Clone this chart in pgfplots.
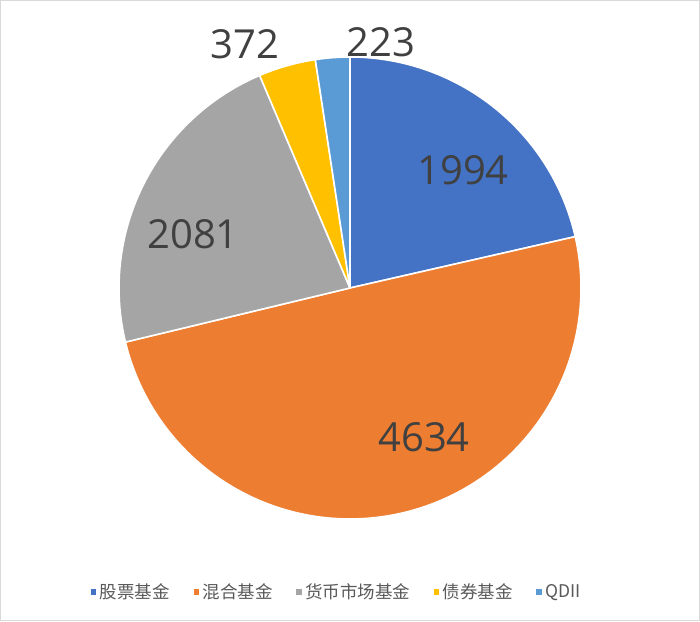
\documentclass[border=0pt]{standalone}
\usepackage{fontspec}
\setmainfont{Noto Sans CJK SC}
\newfontfamily\numfont{Open Sans}
\usepackage{pgfplots}
\usepackage{pgfplotstable}
\pgfplotsset{compat=1.18}
\definecolor{cA}{HTML}{4472C4}
\definecolor{cB}{HTML}{ED7D31}
\definecolor{cC}{HTML}{A5A5A5}
\definecolor{cD}{HTML}{FFC000}
\definecolor{cE}{HTML}{5B9BD5}
\definecolor{lab}{HTML}{404040}
\definecolor{leg}{HTML}{595959}
\definecolor{frame}{HTML}{D9D9D9}
\pgfplotstableread{
idx value
0 1994
1 4634
2 2081
3 372
4 223
}\piedata
\pgfplotstablegetelem{0}{value}\of\piedata \let\vA\pgfplotsretval
\pgfplotstablegetelem{1}{value}\of\piedata \let\vB\pgfplotsretval
\pgfplotstablegetelem{2}{value}\of\piedata \let\vC\pgfplotsretval
\pgfplotstablegetelem{3}{value}\of\piedata \let\vD\pgfplotsretval
\pgfplotstablegetelem{4}{value}\of\piedata \let\vE\pgfplotsretval
\begin{document}
\begin{tikzpicture}
\pgfmathsetmacro\tot{\vA+\vB+\vC+\vD+\vE}
\pgfmathsetmacro\aO{90}
\pgfmathsetmacro\aA{\aO-360*(\vA/\tot)}
\pgfmathsetmacro\aB{\aA-360*(\vB/\tot)}
\pgfmathsetmacro\aC{\aB-360*(\vC/\tot)}
\pgfmathsetmacro\aD{\aC-360*(\vD/\tot)}
\pgfmathsetmacro\aE{\aD-360*(\vE/\tot)}
\def\cx{350}\def\cy{333}\def\rr{231}
\begin{axis}[
  scale only axis, width=700pt, height=621pt,
  xmin=0, xmax=700, ymin=0, ymax=621,
  axis lines=none, clip=false,
  legend columns=5,
  legend image code/.code={\fill[#1] (0pt,-3.5pt) rectangle (7pt,3.5pt);},
  legend style={at={(axis cs:336,29)}, anchor=center, draw=none, fill=none,
    font=\fontsize{17.5}{20}\selectfont, text=leg,
    /tikz/every even column/.append style={column sep=20pt}},
  every axis plot/.append style={draw=white, line width=1.6pt, line join=round, samples=120, variable=\t},
]
\draw[frame, line width=1pt] (axis cs:0.5,0.5) rectangle (axis cs:699.5,620.5);
\addplot[fill=cA, domain=\aO:\aA] ({\cx+\rr*cos(\t)},{\cy+\rr*sin(\t)}) -- (axis cs:\cx,\cy) -- cycle;
\addlegendentry{股票基金}
\addplot[fill=cB, domain=\aA:\aB] ({\cx+\rr*cos(\t)},{\cy+\rr*sin(\t)}) -- (axis cs:\cx,\cy) -- cycle;
\addlegendentry{混合基金}
\addplot[fill=cC, domain=\aB:\aC] ({\cx+\rr*cos(\t)},{\cy+\rr*sin(\t)}) -- (axis cs:\cx,\cy) -- cycle;
\addlegendentry{货币市场基金}
\addplot[fill=cD, domain=\aC:\aD] ({\cx+\rr*cos(\t)},{\cy+\rr*sin(\t)}) -- (axis cs:\cx,\cy) -- cycle;
\addlegendentry{债券基金}
\addplot[fill=cE, domain=\aD:\aE] ({\cx+\rr*cos(\t)},{\cy+\rr*sin(\t)}) -- (axis cs:\cx,\cy) -- cycle;
\addlegendentry{QDII}
\begin{scope}[every node/.style={text=lab, font=\numfont\fontsize{40}{42}\selectfont, inner sep=0pt}]
\node at (axis cs:463,451) {1994};
\node at (axis cs:424,184) {4634};
\node at (axis cs:193,387) {2081};
\node at (axis cs:245,577) {372};
\node at (axis cs:381,579) {223};
\end{scope}
\end{axis}
\end{tikzpicture}
\end{document}
